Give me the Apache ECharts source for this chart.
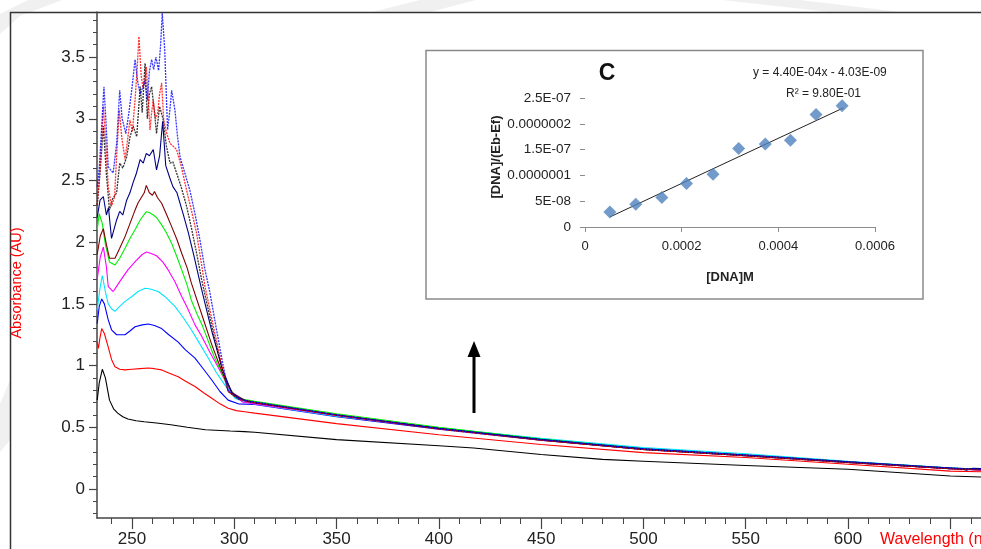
<!DOCTYPE html>
<html>
<head>
<meta charset="utf-8">
<script src="https://cdn.jsdelivr.net/npm/echarts@6/dist/echarts.min.js"></script>
<style>
html,body{margin:0;padding:0;background:#fff;}
#main{width:981px;height:549px;}
</style>
</head>
<body>
<div id="main"></div>
<script>
// spectra: [wavelength nm, absorbance AU]
var c1 = [[233,0.72],[234,0.86],[235.5,0.97],[237,0.90],[239,0.72],[241,0.65],[243,0.615],[245.5,0.585],[248,0.567],[252,0.553],[256,0.545],[262,0.535],[269,0.52],[277,0.50],[286,0.48],[298,0.47],[305,0.465],[310,0.46],[350,0.40],[400,0.35],[417,0.332],[450,0.28],[480,0.24],[500,0.225],[550,0.19],[600,0.16],[650,0.105],[665,0.097]];
var c2 = [[233,1.19],[233.6,1.14],[234.3,1.22],[235.2,1.30],[236.5,1.26],[238.4,1.15],[240,1.05],[241.7,0.99],[244,0.97],[246.6,0.965],[250,0.97],[254,0.975],[258,0.98],[261,0.975],[264.5,0.965],[268,0.94],[272.6,0.91],[276,0.875],[280.8,0.83],[285,0.78],[289,0.735],[293,0.69],[297,0.654],[301,0.635],[305,0.626],[310,0.615],[350,0.53],[400,0.44],[450,0.36],[500,0.295],[550,0.255],[600,0.20],[650,0.145],[665,0.14]];
var c3 = [[233,1.34],[234,1.48],[235.2,1.54],[236.5,1.50],[238.4,1.37],[240,1.29],[242.5,1.25],[246.6,1.25],[249,1.28],[251.5,1.315],[255,1.33],[258,1.337],[261,1.325],[264.5,1.30],[268,1.25],[272.6,1.19],[276,1.13],[280.8,1.06],[285,0.97],[289,0.883],[293,0.79],[297,0.72],[302,0.69],[310,0.685],[350,0.585],[400,0.485],[450,0.395],[500,0.32],[550,0.27],[600,0.215],[650,0.165],[665,0.155]];
var c4 = [[233,1.45],[234.3,1.62],[235.5,1.73],[237,1.60],[238.4,1.50],[240,1.46],[241.7,1.44],[244,1.48],[246.6,1.52],[250,1.56],[253,1.60],[256.4,1.626],[259,1.62],[262.8,1.60],[266,1.56],[271,1.48],[275,1.39],[279,1.29],[283,1.18],[287,1.07],[291,0.95],[295.5,0.84],[300.3,0.735],[305,0.705],[310,0.69],[350,0.59],[400,0.495],[450,0.41],[500,0.335],[550,0.285],[600,0.225],[650,0.17],[665,0.16]];
var c5 = [[233,1.70],[234.5,1.88],[236,1.96],[237.5,1.80],[238.4,1.64],[240.8,1.60],[242,1.63],[244,1.68],[248,1.775],[252,1.85],[255,1.90],[257,1.92],[259,1.91],[262,1.89],[265,1.84],[267.7,1.775],[271,1.68],[274.3,1.56],[277,1.47],[280.8,1.33],[284,1.24],[288,1.11],[292,0.99],[298,0.80],[304,0.705],[310,0.69],[350,0.595],[400,0.49],[450,0.40],[500,0.325],[550,0.275],[600,0.22],[650,0.165],[665,0.155]];
var c6 = [[233,2.10],[234,2.23],[235.5,2.15],[237,1.98],[239,1.84],[241.7,1.815],[244,1.87],[246.6,1.95],[249,2.03],[251.5,2.10],[254,2.18],[257,2.247],[258.5,2.24],[260.4,2.22],[262,2.20],[264.5,2.14],[267,2.07],[269.4,1.99],[272,1.88],[274.3,1.775],[277,1.65],[279,1.53],[282,1.41],[284.5,1.32],[290,1.08],[295.5,0.883],[300.3,0.75],[305,0.725],[310,0.71],[350,0.61],[400,0.50],[450,0.405],[500,0.325],[550,0.275],[600,0.22],[650,0.17],[665,0.16]];
var c7 = [[233,1.90],[234.5,2.05],[236,2.11],[237.5,1.98],[239,1.87],[241.7,1.87],[244,1.95],[246.6,2.045],[249,2.15],[251.5,2.26],[253,2.32],[254.5,2.36],[256,2.40],[257,2.46],[258.5,2.40],[260,2.38],[261,2.41],[262.5,2.36],[264.5,2.315],[267,2.22],[269.4,2.126],[272,2.02],[274.3,1.91],[277,1.79],[279,1.67],[284,1.42],[289,1.17],[294,0.95],[299,0.78],[305,0.72],[310,0.70],[350,0.60],[400,0.49],[450,0.395],[500,0.32],[550,0.27],[600,0.215],[650,0.165],[665,0.155]];
var c8 = [[233,2.20],[234.4,2.34],[236,2.37],[237.5,2.22],[238.5,2.28],[240,2.03],[242.5,2.18],[244,2.25],[245.5,2.22],[247.4,2.34],[249,2.40],[250.5,2.48],[252,2.55],[254,2.67],[255.5,2.64],[257,2.72],[258.5,2.70],[260.4,2.75],[262,2.585],[263.5,2.70],[265,2.98],[266.5,2.62],[268.5,2.52],[270,2.45],[272,2.40],[275,2.23],[277.5,2.08],[280,1.91],[284,1.62],[289,1.28],[294,0.98],[299,0.77],[305,0.715],[310,0.70],[350,0.60],[400,0.49],[450,0.40],[500,0.325],[550,0.275],[600,0.22],[640,0.18],[655,0.165],[658,0.152],[661,0.168],[665,0.165]];
var c9 = [[233,2.30],[234.4,2.56],[236,2.94],[237.5,2.55],[239,2.26],[240.5,2.35],[242.5,2.40],[244,2.64],[245.5,2.60],[247.4,2.69],[249,2.85],[250.6,2.94],[252.3,2.855],[254,3.26],[255,3.05],[256.4,3.45],[257.5,3.00],[258.5,3.20],[259.6,3.26],[261,3.05],[262,2.88],[263.5,3.10],[265.3,2.99],[266.8,2.78],[268.6,2.64],[270,2.65],[271.8,2.56],[274,2.45],[276.7,2.29],[279,2.12],[281.6,1.91],[284,1.70],[286,1.55],[290,1.25],[294,0.98],[297,0.79],[302,0.73],[307,0.707],[310,0.70],[350,0.60],[400,0.49],[450,0.40],[500,0.32],[550,0.27],[600,0.215],[650,0.165],[665,0.16]];
var c10 = [[233,2.30],[234.4,2.60],[236,3.10],[237.2,2.80],[238.4,2.45],[240,2.29],[241.5,2.37],[242.5,2.70],[243.8,3.07],[245,2.85],[246.6,2.67],[248,2.85],[249,2.99],[250.2,2.90],[251.5,3.15],[252.5,3.40],[253.4,3.665],[254.5,3.35],[255.4,3.25],[256.2,3.30],[257,3.42],[258,3.15],[258.8,2.91],[259.6,3.05],[260.4,3.15],[261.5,3.00],[262.6,3.05],[263.5,3.20],[264.5,3.29],[265.5,2.99],[267,2.88],[268.6,2.80],[270,2.78],[271.8,2.75],[274,2.62],[276.7,2.42],[279,2.26],[281.6,2.07],[284,1.82],[285.7,1.64],[290,1.30],[294,1.00],[297,0.79],[302,0.73],[307,0.705],[310,0.70],[350,0.595],[400,0.485],[450,0.395],[500,0.32],[550,0.27],[600,0.215],[650,0.165],[665,0.155]];
var c11 = [[233,2.45],[234,2.60],[235,2.88],[236.3,3.26],[237.2,3.00],[238.4,2.61],[240.8,2.56],[242.5,2.80],[244,3.23],[245.2,3.00],[247,2.88],[248.5,3.05],[250,3.25],[251.5,3.48],[252.8,3.30],[254,3.20],[255.2,3.25],[256.4,3.31],[257.5,3.15],[258.5,3.38],[259.6,3.48],[260.6,3.40],[261.7,3.50],[263,3.39],[264,3.60],[264.8,3.855],[266,3.56],[267.4,2.91],[268.4,3.05],[269.4,3.23],[271,3.07],[272.3,2.85],[273.5,2.69],[276,2.55],[278.3,2.42],[280.8,2.23],[283.2,2.02],[285.7,1.775],[288,1.60],[291,1.32],[294,1.05],[297,0.80],[302,0.735],[307,0.71],[310,0.705],[350,0.60],[400,0.49],[450,0.40],[500,0.325],[550,0.275],[600,0.22],[650,0.17],[665,0.16]];

var curveColors = ['#000000','#ff0000','#0000ff','#00e5ff','#ff00ff','#00ee00','#800000','#000080','#000000','#ff0000','#0000ff'];
var dottedCurves = [8, 9, 10];

var xMajorTicks = [250, 300, 350, 400, 450, 500, 550, 600, 650];
var xTickLabels = [250, 300, 350, 400, 450, 500, 550, 600];
var yMajorTicks = [0, 0.5, 1, 1.5, 2, 2.5, 3, 3.5];

// inset: binding plot
var dnaConc = [0.0000515, 0.000105, 0.000159, 0.00021, 0.000265, 0.000318, 0.000373, 0.000425, 0.000478, 0.000532];
var dnaRatio = [2.92e-8, 4.4e-8, 5.7e-8, 8.44e-8, 1.02e-7, 1.52e-7, 1.61e-7, 1.68e-7, 2.18e-7, 2.35e-7];
var trendLine = [[0.0000515, 1.95e-8], [0.000535, 2.31e-7]];
var insetXLabels = ['0', '0.0002', '0.0004', '0.0006'];
var insetYLabels = ['0', '5E-08', '0.0000001', '1.5E-07', '0.0000002', '2.5E-07'];

var dom = document.getElementById("main");
var myChart = echarts.init(dom);
var option = null;

var xMinor = [];
for (var i = 24; i <= 66; i++) xMinor.push(i * 10);
var yMinor = [];
for (var j = -2; j <= 38; j++) yMinor.push(Math.round(j) / 10);

var narrow = "'Liberation Sans Narrow', 'Liberation Sans', Arial, sans-serif";
var sans = "'Liberation Sans', Arial, sans-serif";

var spectra = [c1, c2, c3, c4, c5, c6, c7, c8, c9, c10, c11];
var series = [];
spectra.forEach(function(d, k) {
	var dotted = dottedCurves.indexOf(k) >= 0;
	series.push({
		type: 'line',
		xAxisIndex: 0,
		yAxisIndex: 0,
		data: d,
		showSymbol: false,
		symbol: 'none',
		silent: true,
		z: 2 + k,
		lineStyle: {
			color: curveColors[k],
			width: dotted ? 1.3 : 1.1,
			type: dotted ? [2, 1] : 'solid',
			opacity: dotted ? 0.8 : 1
		}
	});
});

series.push({
	type: 'line',
	xAxisIndex: 2,
	yAxisIndex: 2,
	data: trendLine,
	symbol: 'none',
	z: 20,
	lineStyle: { color: '#222', width: 1 }
});
series.push({
	type: 'scatter',
	xAxisIndex: 2,
	yAxisIndex: 2,
	data: dnaConc.map(function(x, k) { return [x, dnaRatio[k]]; }),
	symbol: 'diamond',
	symbolSize: 13,
	z: 21,
	itemStyle: { color: '#4f81bd' }
});

// faint watermark swooshes behind the frame
var swoosh = { fill: '#ececec', opacity: 0.8 };

option = {
	backgroundColor: '#fff',
	animation: false,
	grid: [
		{ left: 97, top: 12, right: 0, bottom: 31 },
		{ left: 585, top: 98, width: 290, height: 129 }
	],
	xAxis: [{
		type: 'value', gridIndex: 0, min: 232.9, max: 665,
		axisLine: { show: true, onZero: false, lineStyle: { color: '#444', width: 1.5 } },
		axisTick: { show: true, customValues: xMajorTicks, length: 11, lineStyle: { color: '#444', width: 1.2 } },
		axisLabel: { customValues: xTickLabels, color: '#222', fontSize: 17, fontFamily: narrow, margin: 13 },
		splitLine: { show: false }
	}, {
		type: 'value', gridIndex: 0, min: 232.9, max: 665, position: 'bottom',
		axisLine: { show: false, onZero: false },
		axisTick: { show: true, customValues: xMinor, length: 6, lineStyle: { color: '#444', width: 1 } },
		axisLabel: { show: false },
		splitLine: { show: false }
	}, {
		type: 'value', gridIndex: 1, min: 0, max: 0.0006, interval: 0.0002, z: 6,
		axisLine: { show: true, onZero: false, lineStyle: { color: '#8c8c8c', width: 1 } },
		axisTick: { show: true, length: 5, lineStyle: { color: '#8c8c8c' } },
		axisLabel: {
			color: '#222', fontSize: 13, fontFamily: sans, margin: 13,
			formatter: function(v) { return insetXLabels[Math.round(v / 0.0002)]; }
		},
		splitLine: { show: false }
	}],
	yAxis: [{
		type: 'value', gridIndex: 0, min: -0.235, max: 3.865,
		axisLine: { show: true, onZero: false, lineStyle: { color: '#444', width: 1.5 } },
		axisTick: { show: true, customValues: yMajorTicks, length: 8, lineStyle: { color: '#444', width: 1.2 } },
		axisLabel: { customValues: yMajorTicks, color: '#222', fontSize: 17, fontFamily: narrow, margin: 12 },
		splitLine: { show: false }
	}, {
		type: 'value', gridIndex: 0, min: -0.235, max: 3.865, position: 'left',
		axisLine: { show: false, onZero: false },
		axisTick: { show: true, customValues: yMinor, length: 4, lineStyle: { color: '#444', width: 1 } },
		axisLabel: { show: false },
		splitLine: { show: false }
	}, {
		type: 'value', gridIndex: 1, min: 0, max: 2.5e-7, interval: 5e-8, z: 6,
		axisLine: { show: false, onZero: false },
		axisTick: { show: true, length: 5, lineStyle: { color: '#8c8c8c' } },
		axisLabel: {
			color: '#222', fontSize: 13.5, fontFamily: sans, margin: 14,
			formatter: function(v) { return insetYLabels[Math.round(v / 5e-8)]; }
		},
		splitLine: { show: false }
	}],
	graphic: [
		{ type: 'polygon', z: -1, shape: { points: [[0, 34], [0, 14], [28, 0], [62, 0], [20, 16]] }, style: swoosh, silent: true },
		{ type: 'polygon', z: -1, shape: { points: [[372, 12], [420, 0], [476, 0], [430, 12]] }, style: swoosh, silent: true },
		{ type: 'polygon', z: -1, shape: { points: [[722, 0], [800, 0], [900, 12], [830, 12]] }, style: swoosh, silent: true },
		{ type: 'polygon', z: -1, shape: { points: [[0, 404], [10, 380], [10, 440], [0, 452]] }, style: swoosh, silent: true },
		{ type: 'line', shape: { x1: 10.5, y1: 12, x2: 10.5, y2: 549 }, style: { stroke: '#333', lineWidth: 1.5 }, silent: true },
		{ type: 'line', shape: { x1: 10, y1: 12.5, x2: 981, y2: 12.5 }, style: { stroke: '#333', lineWidth: 1.5 }, silent: true },
		{ type: 'text', x: 17, y: 283, rotation: Math.PI / 2, style: { text: 'Absorbance (AU)', fill: '#ff0000', font: '14.5px ' + narrow, textAlign: 'center', textVerticalAlign: 'middle' }, silent: true },
		{ type: 'text', x: 880, y: 540, style: { text: 'Wavelength (nm)', fill: '#ff0000', font: '16px ' + narrow, textAlign: 'left', textVerticalAlign: 'middle' }, silent: true },
		{ type: 'line', shape: { x1: 474, y1: 413, x2: 474, y2: 354 }, style: { stroke: '#000', lineWidth: 3 }, silent: true },
		{ type: 'polygon', shape: { points: [[474, 341], [467.5, 357], [480.5, 357]] }, style: { fill: '#000' }, silent: true },
		{ type: 'rect', z: 1, shape: { x: 426, y: 50.5, width: 497, height: 248.5 }, style: { fill: '#fff', stroke: '#8a8a8a', lineWidth: 1.5 }, silent: true },
		{ type: 'text', z: 5, x: 607, y: 74, style: { text: 'C', fill: '#111', font: 'bold 23px ' + sans, textAlign: 'center', textVerticalAlign: 'middle' }, silent: true },
		{ type: 'text', z: 5, x: 753, y: 73, style: { text: 'y = 4.40E-04x - 4.03E-09', fill: '#222', font: '12px ' + sans, textAlign: 'left', textVerticalAlign: 'middle' }, silent: true },
		{ type: 'text', z: 5, x: 786, y: 94, style: { text: 'R² = 9.80E-01', fill: '#222', font: '12px ' + sans, textAlign: 'left', textVerticalAlign: 'middle' }, silent: true },
		{ type: 'text', z: 5, x: 496, y: 157, rotation: Math.PI / 2, style: { text: '[DNA]/(Eb-Ef)', fill: '#222', font: 'bold 13px ' + sans, textAlign: 'center', textVerticalAlign: 'middle' }, silent: true },
		{ type: 'text', z: 5, x: 730, y: 277, style: { text: '[DNA]M', fill: '#222', font: 'bold 13px ' + sans, textAlign: 'center', textVerticalAlign: 'middle' }, silent: true }
	],
	series: series
};

if (option && typeof option === "object") {
	myChart.setOption(option, true);
}
</script>
</body>
</html>
